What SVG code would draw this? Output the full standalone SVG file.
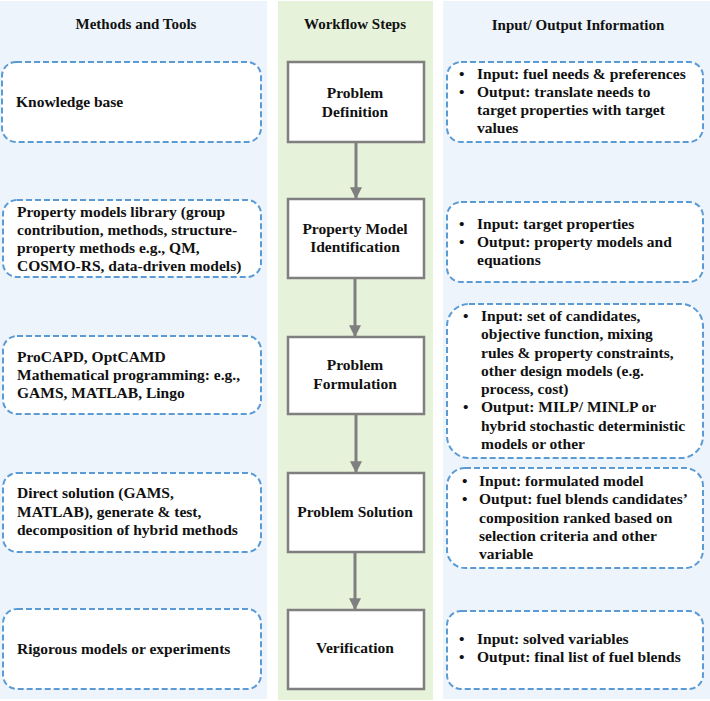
<svg xmlns="http://www.w3.org/2000/svg" width="710" height="701" viewBox="0 0 710 701">
<defs>
<style>
.bgb{fill:#edf4fb}
.bgg{fill:#e6f2da}
.db{fill:#ffffff;stroke:#5b9bd5;stroke-width:2;stroke-dasharray:6 3}
.gb{fill:#ffffff;stroke:#7f7f7f;stroke-width:2.5}
text{font-family:"Liberation Serif","Times New Roman",serif;font-weight:bold;font-size:15.5px;fill:#111}
.h{font-size:15px}
.c{text-anchor:middle}
.con{stroke:#7f7f7f;stroke-width:3;fill:none}
</style>
<marker id="ah" viewBox="0 0 10 10" refX="9" refY="5" markerWidth="4" markerHeight="4" orient="auto" markerUnits="strokeWidth">
<path d="M0,0 L10,5 L0,10 z" fill="#7f7f7f"/>
</marker>
</defs>
<g id="panels">
<rect class="bgb" x="0" y="1" width="267" height="698"/>
<rect class="bgg" x="278" y="1" width="155" height="699"/>
<rect class="bgb" x="443" y="1" width="267" height="698"/>
<text class="h c" x="136" y="29">Methods and Tools</text>
<text class="h c" x="355" y="29">Workflow  Steps</text>
<text class="h c" x="578" y="30">Input/ Output Information</text>
</g>
<g id="connectors">
<line class="con" x1="356" y1="143" x2="356" y2="198" marker-end="url(#ah)"/>
<line class="con" x1="355" y1="279" x2="355" y2="336" marker-end="url(#ah)"/>
<line class="con" x1="356" y1="415" x2="356" y2="472" marker-end="url(#ah)"/>
<line class="con" x1="355" y1="553" x2="355" y2="609" marker-end="url(#ah)"/>
</g>
<g id="m1"><rect class="db" x="2" y="62" width="259" height="80" rx="14"/>
<text x="16" y="107">Knowledge base</text></g>
<g id="m2"><rect class="db" x="3" y="200" width="258" height="77" rx="14"/>
<text x="17" y="217">Property models library (group</text>
<text x="17" y="235">contribution, methods, structure-</text>
<text x="17" y="253">property methods e.g., QM,</text>
<text x="17" y="271">COSMO-RS, data-driven models)</text></g>
<g id="m3"><rect class="db" x="3" y="336" width="258" height="78" rx="14"/>
<text x="17" y="362">ProCAPD, OptCAMD</text>
<text x="17" y="380">Mathematical programming: e.g.,</text>
<text x="17" y="398">GAMS, MATLAB, Lingo</text></g>
<g id="m4"><rect class="db" x="3" y="473" width="258" height="79" rx="14"/>
<text x="17" y="498">Direct solution (GAMS,</text>
<text x="17" y="517">MATLAB), generate &amp; test,</text>
<text x="17" y="535">decomposition of hybrid methods</text></g>
<g id="m5"><rect class="db" x="3" y="609" width="258" height="80" rx="14"/>
<text x="17" y="654">Rigorous models or experiments</text></g>
<g id="s1"><rect class="gb" x="288" y="62" width="136" height="80"/>
<text class="c" x="355" y="98">Problem</text>
<text class="c" x="355" y="117">Definition</text></g>
<g id="s2"><rect class="gb" x="288" y="199" width="136" height="79"/>
<text class="c" x="355" y="234">Property Model</text>
<text class="c" x="355" y="252">Identification</text></g>
<g id="s3"><rect class="gb" x="288" y="337" width="136" height="77"/>
<text class="c" x="355" y="370">Problem</text>
<text class="c" x="355" y="389">Formulation</text></g>
<g id="s4"><rect class="gb" x="288" y="473" width="136" height="79"/>
<text class="c" x="355" y="517">Problem Solution</text></g>
<g id="s5"><rect class="gb" x="288" y="610" width="136" height="79"/>
<text class="c" x="355" y="653">Verification</text></g>
<g id="io1"><rect class="db" x="447" y="62" width="256" height="80" rx="14"/>
<text x="459" y="79">•</text><text x="477" y="79">Input: fuel needs &amp; preferences</text>
<text x="459" y="97">•</text><text x="477" y="97">Output: translate needs to</text>
<text x="477" y="115">target properties with target</text>
<text x="477" y="133">values</text></g>
<g id="io2"><rect class="db" x="447" y="202" width="256" height="80" rx="14"/>
<text x="459" y="229">•</text><text x="477" y="229">Input: target properties</text>
<text x="459" y="247">•</text><text x="477" y="247">Output: property models and</text>
<text x="477" y="265">equations</text></g>
<g id="io3"><rect class="db" x="447" y="304" width="256" height="154" rx="22"/>
<text x="463" y="321">•</text><text x="481" y="321">Input: set of candidates,</text>
<text x="481" y="339">objective function, mixing</text>
<text x="481" y="358">rules &amp; property constraints,</text>
<text x="481" y="376">other design models (e.g.</text>
<text x="481" y="394">process, cost)</text>
<text x="463" y="412">•</text><text x="481" y="412">Output: MILP/ MINLP or</text>
<text x="481" y="431">hybrid stochastic deterministic</text>
<text x="481" y="449">models or other</text></g>
<g id="io4"><rect class="db" x="447" y="468" width="256" height="100" rx="18"/>
<text x="462" y="486">•</text><text x="479" y="486">Input: formulated model</text>
<text x="462" y="504">•</text><text x="479" y="504">Output: fuel blends candidates’</text>
<text x="479" y="523">composition ranked based on</text>
<text x="479" y="541">selection criteria and other</text>
<text x="479" y="559">variable</text></g>
<g id="io5"><rect class="db" x="447" y="611" width="256" height="78" rx="14"/>
<text x="459" y="644">•</text><text x="477" y="644">Input: solved variables</text>
<text x="459" y="662">•</text><text x="477" y="662">Output: final list of fuel blends</text></g>
</svg>
